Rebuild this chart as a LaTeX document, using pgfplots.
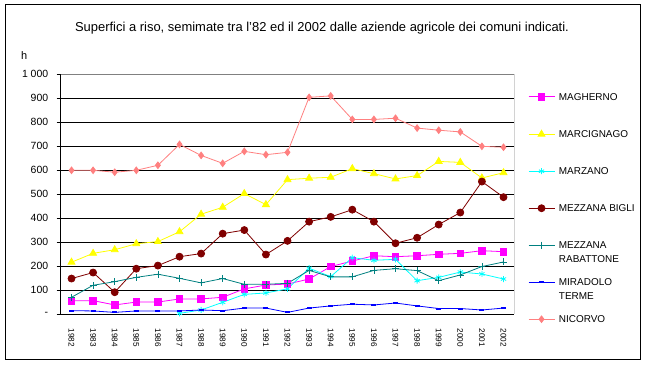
\documentclass[border=0pt]{standalone}
\usepackage{pgfplots}
\pgfplotsset{compat=1.18}
\usepackage{fontspec}
\setmainfont{Liberation Sans}
\definecolor{cMag}{HTML}{FF00FF}
\definecolor{cYel}{HTML}{FFFF00}
\definecolor{cCya}{HTML}{00FFFF}
\definecolor{cBig}{HTML}{800000}
\definecolor{cRab}{HTML}{008080}
\definecolor{cMir}{HTML}{0000FF}
\definecolor{cNic}{HTML}{FF8080}
\begin{document}
\begin{tikzpicture}[x=1bp,y=1bp]
\useasboundingbox (0,0) rectangle (647,364);
\fill[white] (0,0) rectangle (647,364);
\draw[black, line width=1bp] (5,5) rectangle (640,359);
\node[anchor=base, inner sep=0pt, font=\fontsize{13}{15}\selectfont] at (322,333) {Superfici a riso, semimate tra l'82 ed il 2002 dalle aziende agricole dei comuni indicati.};
\node[anchor=base west, inner sep=0pt, font=\fontsize{11}{12}\selectfont] at (21,305) {h};
\begin{axis}[
  at={(60.7bp,49.7bp)}, anchor=south west, scale only axis,
  width=453.6bp, height=240bp,
  xmin=-0.5, xmax=20.5, ymin=0, ymax=1000,
  axis x line*=bottom, axis y line*=left,
  axis line style={-, black, line width=0.8bp},
  xtick={0,1,2,3,4,5,6,7,8,9,10,11,12,13,14,15,16,17,18,19,20},
  xticklabels={1982,1983,1984,1985,1986,1987,1988,1989,1990,1991,1992,1993,1994,1995,1996,1997,1998,1999,2000,2001,2002},
  x tick style={draw=none},
  extra x ticks={-0.5,0.5,1.5,2.5,3.5,4.5,5.5,6.5,7.5,8.5,9.5,10.5,11.5,12.5,13.5,14.5,15.5,16.5,17.5,18.5,19.5,20.5},
  extra x tick labels={},
  extra x tick style={tick align=outside, major tick length=4bp, tick style={draw=black, line width=0.8bp}},
  xticklabel style={rotate=-90, anchor=west, font=\fontsize{8.2}{9}\selectfont, xshift=7bp},
  ytick={0,100,200,300,400,500,600,700,800,900,1000},
  yticklabels={-,100,200,300,400,500,600,700,800,900,1 000},
  yticklabel style={font=\fontsize{10.5}{12}\selectfont, xshift=-5bp},
  y tick style={black, line width=0.8bp},
  tick align=outside, major tick length=4bp,
  ymajorgrids, grid style={black, line width=0.8bp},
  /pgf/number format/assume math mode=true,
  legend image code/.code={\draw[mark repeat=2,mark phase=2,#1] plot coordinates {(0bp,0bp) (13bp,0bp) (26bp,0bp)};},
  legend style={at={(1.03,0.922)}, anchor=north west, draw=none, fill=none, inner sep=0pt,
    row sep=29.8bp, column sep=4bp,
    nodes={font=\fontsize{10}{14}\selectfont, text height=7.2bp, text depth=0bp, inner sep=0pt}},
  legend cell align=left,
]
\addplot[color=cMag, line width=0.8bp, mark=square*, mark size=3.3bp, mark options={solid, fill=cMag}] coordinates {
(0,56)(1,57)(2,39)(3,51)(4,51)(5,64)(6,64)(7,71)(8,106)(9,122)(10,126)(11,147)(12,199)(13,222)(14,244)(15,240)(16,244)(17,250)(18,254)(19,265)(20,261)};
\addlegendentry{MAGHERNO}
\addplot[color=cYel, line width=0.8bp, mark=triangle*, mark size=4bp, mark options={solid, fill=cYel}] coordinates {
(0,217)(1,254)(2,269)(3,294)(4,303)(5,344)(6,417)(7,446)(8,503)(9,457)(10,561)(11,567)(12,571)(13,607)(14,586)(15,564)(16,578)(17,637)(18,633)(19,568)(20,590)};
\addlegendentry{MARCIGNAGO}
\addplot[color=cCya, line width=0.8bp, mark=asterisk, mark size=3bp, mark options={solid}] coordinates {
(5,4)(6,18)(7,50)(8,83)(9,89)(10,106)(11,192)(12,157)(13,236)(14,225)(15,229)(16,140)(17,154)(18,176)(19,168)(20,147)};
\addlegendentry{MARZANO}
\addplot[color=cBig, line width=0.8bp, mark=*, mark size=3.5bp, mark options={solid, fill=cBig}] coordinates {
(0,149)(1,174)(2,92)(3,190)(4,203)(5,240)(6,253)(7,336)(8,351)(9,249)(10,306)(11,386)(12,406)(13,436)(14,386)(15,296)(16,319)(17,374)(18,424)(19,553)(20,488)};
\addlegendentry{MEZZANA BIGLI}
\addplot[color=cRab, line width=0.8bp, mark=+, mark size=3.5bp, mark options={solid}] coordinates {
(0,71)(1,121)(2,136)(3,154)(4,167)(5,150)(6,131)(7,149)(8,125)(9,125)(10,129)(11,183)(12,156)(13,156)(14,183)(15,190)(16,182)(17,140)(18,164)(19,199)(20,218)};
\addlegendentry{{\parbox[t]{90bp}{MEZZANA\\RABATTONE}}}
\addplot[color=cMir, line width=0.8bp, mark=-, mark size=2.5bp, mark options={solid, line width=2bp}] coordinates {
(0,15)(1,14)(2,8)(3,14)(4,14)(5,14)(6,18)(7,15)(8,26)(9,26)(10,8)(11,26)(12,35)(13,42)(14,39)(15,47)(16,35)(17,24)(18,24)(19,18)(20,26)};
\addlegendentry{{\parbox[t]{90bp}{MIRADOLO\\TERME}}}
\addplot[color=cNic, line width=0.8bp, mark=diamond*, mark size=3.3bp, mark options={solid, fill=cNic}] coordinates {
(0,600)(1,600)(2,592)(3,600)(4,621)(5,708)(6,662)(7,629)(8,679)(9,665)(10,675)(11,904)(12,910)(13,812)(14,812)(15,817)(16,776)(17,767)(18,760)(19,700)(20,696)};
\addlegendentry{NICORVO}
\draw[color={rgb,255:red,128;green,128;blue,128}, line width=0.8bp] (axis description cs:0,1) -- (axis description cs:1,1) -- (axis description cs:1,0);
\end{axis}
\end{tikzpicture}
\end{document}
